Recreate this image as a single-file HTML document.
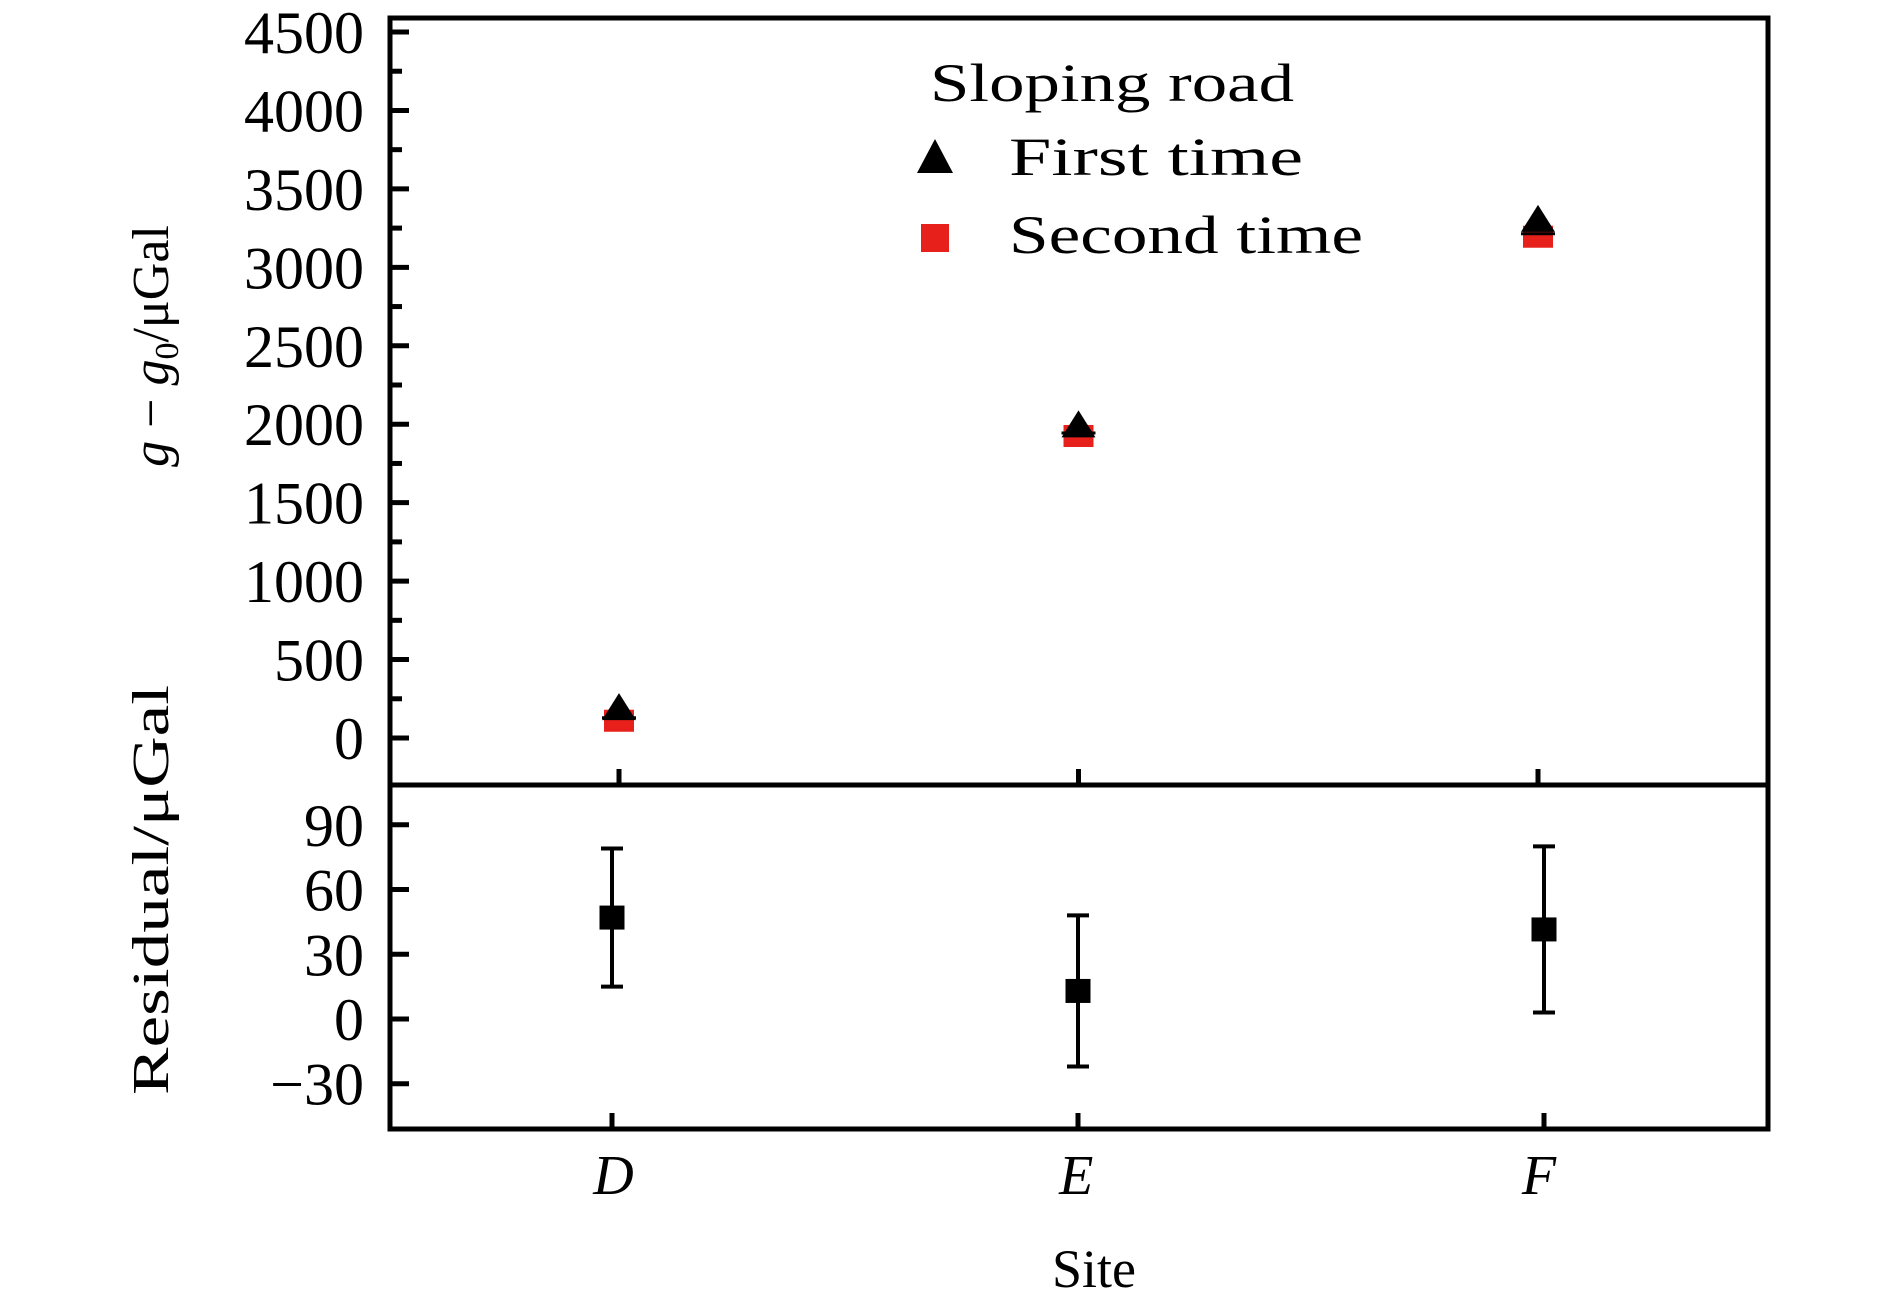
<!DOCTYPE html>
<html><head><meta charset="utf-8"><style>
html,body{margin:0;padding:0;background:#fff;}
svg{display:block;}
text{font-family:"Liberation Serif",serif;fill:#000;}
</style></head><body>
<svg id="chart" width="1890" height="1300" viewBox="0 0 1890 1300">
<g id="frame"></g>
<g id="upper"></g>
<g id="lower"></g>
<g>
<text x="930" y="101" font-size="54" textLength="364" lengthAdjust="spacingAndGlyphs">Sloping road</text>
<polygon points="935,139 917,173 953,173" fill="#000"/>
<text x="1009" y="175" font-size="54" textLength="294" lengthAdjust="spacingAndGlyphs">First time</text>
<rect x="921" y="224" width="28" height="28" fill="#e8201c"/>
<text x="1009" y="253" font-size="54" textLength="354" lengthAdjust="spacingAndGlyphs">Second time</text>
</g>
<text transform="translate(168,346) rotate(-90)" text-anchor="middle" font-size="52"><tspan font-style="italic">g</tspan> − <tspan font-style="italic">g</tspan><tspan font-size="34" dy="10">0</tspan><tspan dy="-10">/μGal</tspan></text>
<text transform="translate(168,890) rotate(-90)" text-anchor="middle" font-size="52" textLength="410" lengthAdjust="spacingAndGlyphs">Residual/μGal</text>
<text x="1094" y="1287" text-anchor="middle" font-size="54">Site</text>
</svg>
<script>
const sites = ['D','E','F'];
const firstTime = [178, 1980, 3290];
const secondTime = [110, 1925, 3195];
const upperTicks = [0,500,1000,1500,2000,2500,3000,3500,4000,4500];
const residuals = [47, 13, 41.5];
const residualErr = [32, 35, 38.5];
const residualTicks = [-30, 0, 30, 60, 90];

const NS='http://www.w3.org/2000/svg';
function mk(parent, tag, attrs){const e=document.createElementNS(NS,tag);for(const k in attrs)e.setAttribute(k,attrs[k]);parent.appendChild(e);return e;}
const L=390,R=1768,T=18,MID=785,B=1129;
const yU=v=>738-(v)*706/4500;
const yL=v=>1019-v*2.158;
const xU=i=>619+i*459.5;
const xL=i=>612+i*466;
const frame=document.getElementById('frame');
const up=document.getElementById('upper');
const lo=document.getElementById('lower');
let e;
e=mk(frame,'rect',{x:L,y:T,width:R-L,height:B-T,fill:'none',stroke:'#000','stroke-width':5});


e=mk(frame,'line',{x1:L,x2:R,y1:MID,y2:MID,stroke:'#000','stroke-width':5});


// upper y ticks
for(let v=0; v<=4500; v+=250){
  const major=v%500===0;
  e=mk(up,'line',{x1:L,x2:L+(major?19:12),y1:yU(v),y2:yU(v),stroke:'#000','stroke-width':5});
  
  
}
upperTicks.forEach(v=>{
  e=mk(up,'text',{x:364,y:yU(v)+21,'text-anchor':'end','font-size':60});
  e.textContent=String(v);
  
  
});
sites.forEach((s,i)=>{
  e=mk(up,'line',{x1:xU(i),x2:xU(i),y1:MID,y2:MID-16,stroke:'#000','stroke-width':5});
  
  
  const x=xU(i);
  const ys=yU(secondTime[i]);
  e=mk(up,'rect',{x:x-15,y:ys-11,width:30,height:22,fill:'#e8201c'});
  
  
  const yt=yU(firstTime[i]);
  e=mk(up,'polygon',{points:`${x},${yt-17} ${x-17},${yt+10} ${x+17},${yt+10}`,fill:'#000'});
  
  
  e=mk(up,'line',{x1:x-17,x2:x+17,y1:ys-3,y2:ys-3,stroke:'#000','stroke-width':3});
  
  
});
// lower
residualTicks.forEach(v=>{
  e=mk(lo,'line',{x1:L,x2:L+19,y1:yL(v),y2:yL(v),stroke:'#000','stroke-width':5});
  
  
  e=mk(lo,'text',{x:364,y:yL(v)+21,'text-anchor':'end','font-size':60});
  e.textContent=v<0?'−'+Math.abs(v):String(v);
  
  
});
sites.forEach((s,i)=>{
  const x=xL(i);
  e=mk(lo,'line',{x1:x,x2:x,y1:B,y2:B-16,stroke:'#000','stroke-width':5});
  
  
  e=mk(lo,'text',{x:(xU(i)+x)/2-2,y:1194,'text-anchor':'middle','font-size':56,'font-style':'italic'});
  e.textContent=s;
  
  
  const yc=yL(residuals[i]),yt=yL(residuals[i]+residualErr[i]),yb=yL(residuals[i]-residualErr[i]);
  e=mk(lo,'line',{x1:x,x2:x,y1:yt,y2:yb,stroke:'#000','stroke-width':4});
  
  
  [yt,yb].forEach(yy=>{
    e=mk(lo,'line',{x1:x-11,x2:x+11,y1:yy,y2:yy,stroke:'#000','stroke-width':4});
    
    
  });
  e=mk(lo,'rect',{x:x-12.5,y:yc-12,width:25,height:24,fill:'#000'});
  
  
});
</script>
</body></html>
